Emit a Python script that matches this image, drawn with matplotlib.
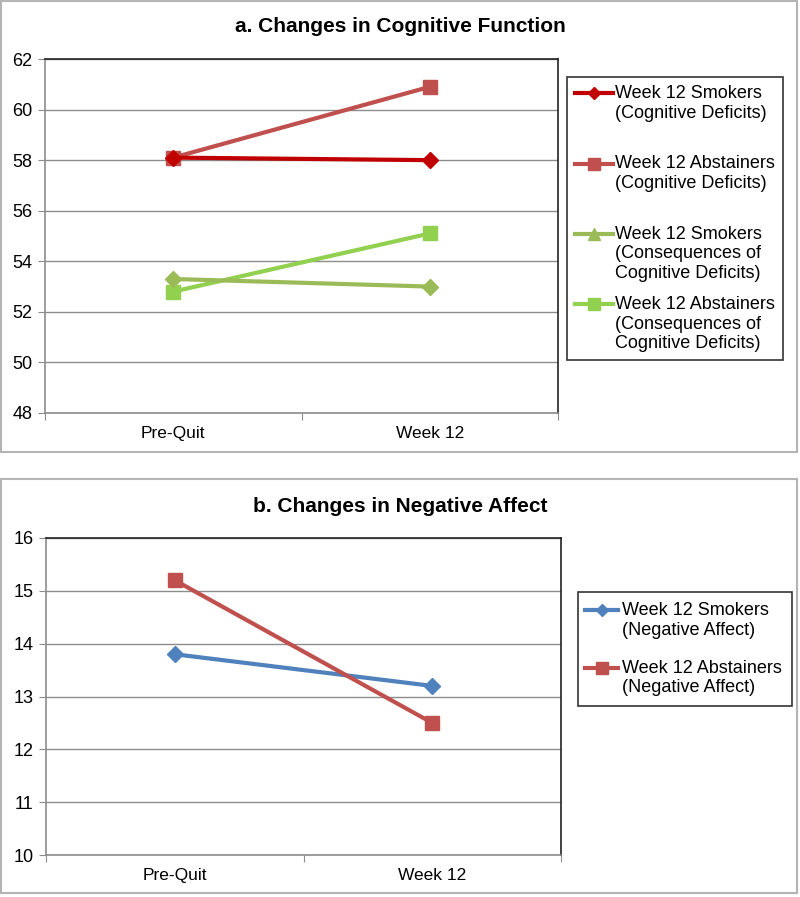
import matplotlib.pyplot as plt
from matplotlib.lines import Line2D
from matplotlib.patches import FancyBboxPatch
from matplotlib.legend_handler import HandlerLine2D

plt.rcParams['font.family'] = ['Liberation Sans', 'DejaVu Sans']

periods = ['Pre-Quit', 'Week 12']

# panel a
smk_cog = [58.1, 58.0]
abs_cog = [58.1, 60.9]
smk_cons = [53.3, 53.0]
abs_cons = [52.8, 55.1]

# panel b
smk_neg = [13.8, 13.2]
abs_neg = [15.2, 12.5]

W, H = 800, 897
fig = plt.figure(figsize=(W / 100, H / 100), dpi=100)


def px(x0, y0, x1, y1):
    # pixel box (from top-left) to figure coords
    return [x0 / W, 1 - y1 / H, (x1 - x0) / W, (y1 - y0) / H]


# panel frames
for (x0, y0, x1, y1) in [(1, 1, 797, 452), (1, 479, 797, 893)]:
    fig.patches.append(FancyBboxPatch((x0 / W, 1 - y1 / H), (x1 - x0) / W, (y1 - y0) / H,
                                      boxstyle='square,pad=0', transform=fig.transFigure,
                                      facecolor='none', edgecolor='#b4b4b4', linewidth=1.5))


class TopHandler(HandlerLine2D):
    # put the legend handle on the first line of a multi-line label, like excel
    def __init__(self, nlines, ext=0, **kw):
        super().__init__(**kw)
        self.nlines = nlines
        self.ext = ext

    def create_artists(self, legend, orig_handle, xdescent, ydescent, width, height, fontsize, trans):
        arts = super().create_artists(legend, orig_handle, xdescent, ydescent, width, height,
                                      fontsize, trans)
        off = (self.nlines - 1) / 2 * fontsize * 1.11
        for a in arts:
            a.set_ydata([y + off for y in a.get_ydata()])
            xs = list(a.get_xdata())
            if len(xs) == 2:
                a.set_xdata([xs[0] - self.ext, xs[1]])
            else:
                a.set_xdata([v - self.ext / 2 for v in xs])
        return arts


def style_axes(ax, ymin, ymax, step):
    ax.set_xlim(0, 2)
    ax.set_ylim(ymin, ymax)
    ax.set_yticks(range(ymin, ymax + 1, step))
    ax.yaxis.grid(True, color='#8c8c8c', linewidth=1.0)
    ax.set_axisbelow(True)
    ax.set_xticks([0, 1, 2])
    ax.set_xticklabels([])
    ax.set_xticks([0.5, 1.5], minor=True)
    ax.set_xticklabels(periods, minor=True, fontsize=12.5)
    ax.tick_params(axis='x', which='minor', length=0, pad=9)
    ax.tick_params(axis='x', which='major', length=5, color='#8c8c8c', direction='out')
    ax.tick_params(axis='y', length=5, color='#8c8c8c', labelsize=13, pad=4)
    for s in ['top', 'right']:
        ax.spines[s].set_color('#222222')
    for s in ['left', 'bottom']:
        ax.spines[s].set_color('#8c8c8c')
    for s in ax.spines.values():
        s.set_linewidth(1.2)


x = [0.5, 1.5]

# ---- a. cognitive function
ax1 = fig.add_axes(px(45, 59, 558, 413))
style_axes(ax1, 48, 62, 2)
ax1.plot(x, abs_cog, color='#c0504d', lw=3, marker='s', ms=10)
ax1.plot(x, smk_cog, color='#c00000', lw=3, marker='D', ms=8)
ax1.plot(x, abs_cons, color='#92d050', lw=3, marker='s', ms=10)
ax1.plot(x, smk_cons, color='#9bbb59', lw=3, marker='D', ms=8)
fig.text(400 / W, 1 - 27 / H, 'a. Changes in Cognitive Function', ha='center', va='center',
         fontsize=15, fontweight='bold')

h1 = [Line2D([], [], color='#c00000', lw=3, marker='D', ms=6),
      Line2D([], [], color='#c0504d', lw=3, marker='s', ms=8),
      Line2D([], [], color='#9bbb59', lw=3, marker='^', ms=8),
      Line2D([], [], color='#92d050', lw=3, marker='s', ms=8)]
l1 = ['Week 12 Smokers\n(Cognitive Deficits)\n',
      'Week 12 Abstainers\n(Cognitive Deficits)\n',
      'Week 12 Smokers\n(Consequences of\nCognitive Deficits)',
      'Week 12 Abstainers\n(Consequences of\nCognitive Deficits)']
leg1 = fig.legend(h1, l1, loc='upper left', bbox_to_anchor=(567 / W, 1 - 77 / H),
                  fontsize=13, frameon=True, fancybox=False, edgecolor='black',
                  handlelength=2.1, handletextpad=0.1, labelspacing=0.78, borderpad=0.45,
                  borderaxespad=0, handler_map={h: TopHandler(3) for h in h1})
leg1.get_frame().set_linewidth(1.2)

# ---- b. negative affect
ax2 = fig.add_axes(px(46, 538, 561, 855))
style_axes(ax2, 10, 16, 1)
ax2.plot(x, smk_neg, color='#4f81bd', lw=3, marker='D', ms=8)
ax2.plot(x, abs_neg, color='#c0504d', lw=3, marker='s', ms=10)
fig.text(400 / W, 1 - 507 / H, 'b. Changes in Negative Affect', ha='center', va='center',
         fontsize=15, fontweight='bold')

h2 = [Line2D([], [], color='#4f81bd', lw=3, marker='D', ms=6),
      Line2D([], [], color='#c0504d', lw=3, marker='s', ms=8)]
l2 = ['Week 12 Smokers\n(Negative Affect)', 'Week 12 Abstainers\n(Negative Affect)']
leg2 = fig.legend(h2, l2, loc='upper left', bbox_to_anchor=(578 / W, 1 - 592 / H),
                  fontsize=13, frameon=True, fancybox=False, edgecolor='black',
                  handlelength=1.8, handletextpad=0.1, labelspacing=1.17, borderpad=0.55,
                  borderaxespad=0, handler_map={h: TopHandler(2, ext=3.6) for h in h2})
leg2.get_frame().set_linewidth(1.2)

fig.savefig('out.png', dpi=100)
